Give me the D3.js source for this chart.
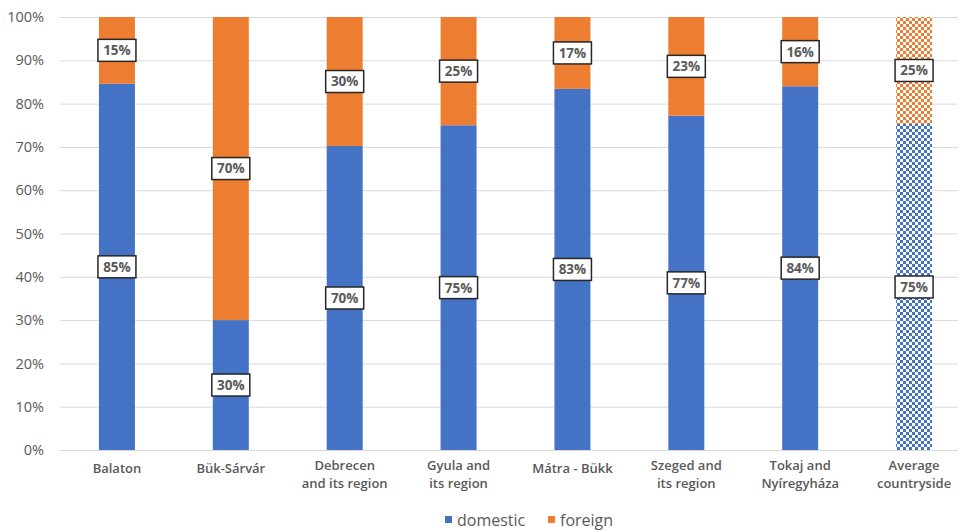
<!DOCTYPE html>
<html>
<head>
  <meta charset="utf-8">
  <script src="https://d3js.org/d3.v7.min.js"></script>
  <style>
    body { margin: 0; padding: 0; background: #fff; }
    text { font-family: "Open Sans", "DejaVu Sans", sans-serif; fill: #595959; }
  </style>
</head>
<body>
  <script>
    // values (percent of guests)
    var categories = ["Balaton", "Bük-Sárvár", "Debrecen\nand its region", "Gyula and\nits region",
      "Mátra - Bükk", "Szeged and\nits region", "Tokaj and\nNyíregyháza", "Average\ncountryside"];
    var domestic = [84.6, 30, 70.2, 75, 83.4, 77.2, 84, 75.3];
    var foreign = [15.4, 70, 29.8, 25, 16.6, 22.8, 16, 24.7];
    var seriesNames = ["domestic", "foreign"];
    var yTicks = [0, 10, 20, 30, 40, 50, 60, 70, 80, 90, 100];
    var colors = ["#4472C4", "#ED7D31"];

    var width = 960, height = 531;
    var margin = { top: 17, left: 60, bottom: 81 };

    var svg = d3.select("body").append("svg")
      .attr("width", width)
      .attr("height", height);

    // checker patterns for the average bar
    var defs = svg.append("defs");
    colors.forEach(function (c, i) {
      var p = defs.append("pattern")
        .attr("id", "checker" + i)
        .attr("patternUnits", "userSpaceOnUse")
        .attr("width", 6).attr("height", 6);
      p.append("rect").attr("width", 6).attr("height", 6).attr("fill", "#fff");
      p.append("rect").attr("width", 3).attr("height", 3).attr("fill", c);
      p.append("rect").attr("x", 3).attr("y", 3).attr("width", 3).attr("height", 3).attr("fill", c);
    });

    var x = d3.scaleBand()
      .domain(categories)
      .range([margin.left, 971])
      .paddingInner(0.684)
      .paddingOuter(0.342);

    var y = d3.scaleLinear()
      .domain([0, 100])
      .range([height - margin.bottom, margin.top]);

    // gridlines
    svg.append("g")
      .selectAll("line")
      .data(yTicks)
      .enter().append("line")
      .attr("x1", margin.left)
      .attr("x2", 958)
      .attr("y1", function (d) { return y(d) + 0.5; })
      .attr("y2", function (d) { return y(d) + 0.5; })
      .attr("stroke", "#d9d9d9")
      .attr("stroke-width", 1);

    // y axis labels
    var yAxis = d3.axisLeft(y)
      .tickValues(yTicks)
      .tickSize(0)
      .tickPadding(16)
      .tickFormat(function (d) { return d + "%"; });

    var ya = svg.append("g")
      .attr("transform", "translate(" + margin.left + ",0)")
      .call(yAxis);
    ya.select(".domain").remove();
    ya.selectAll("text")
      .attr("font-size", 14.5)
      .attr("fill", "#595959")
      .style("font-family", "\"Open Sans\", sans-serif");

    // stacked data
    var rows = categories.map(function (c, i) {
      return { cat: c, domestic: domestic[i], foreign: foreign[i], avg: i === categories.length - 1 };
    });
    var stack = d3.stack().keys(seriesNames)(rows);

    var layers = svg.selectAll(".layer")
      .data(stack)
      .enter().append("g")
      .attr("class", "layer");

    layers.selectAll("rect")
      .data(function (s, si) { return s.map(function (d) { return { d: d, si: si }; }); })
      .enter().append("rect")
      .attr("x", function (o) { return x(o.d.data.cat); })
      .attr("width", x.bandwidth())
      .attr("y", function (o) { return y(o.d[1]); })
      .attr("height", function (o) { return y(o.d[0]) - y(o.d[1]); })
      .attr("fill", function (o) {
        return o.d.data.avg ? "url(#checker" + o.si + ")" : colors[o.si];
      });

    // data labels
    var labels = svg.append("g");
    stack.forEach(function (s) {
      s.forEach(function (d) {
        var cx = x(d.data.cat) + x.bandwidth() / 2;
        var cy = y((d[0] + d[1]) / 2);
        var g = labels.append("g").attr("transform", "translate(" + cx + "," + cy + ")");
        g.append("rect")
          .attr("x", -19).attr("y", -11)
          .attr("width", 38).attr("height", 22)
          .attr("fill", "#fff")
          .attr("stroke", "#262626")
          .attr("stroke-width", 1.5);
        g.append("text")
          .attr("text-anchor", "middle")
          .attr("dy", "0.36em")
          .attr("font-size", 13.5)
          .attr("font-weight", "bold")
          .attr("fill", "#404040")
          .text(Math.round(d[1] - d[0]) + "%");
      });
    });

    // category labels
    var xl = svg.append("g");
    categories.forEach(function (c) {
      var lines = c.split("\n");
      var t = xl.append("text")
        .attr("x", x(c) + x.bandwidth() / 2)
        .attr("y", lines.length > 1 ? 470 : 473)
        .attr("text-anchor", "middle")
        .attr("font-size", 13)
        .attr("font-weight", 600)
        .attr("fill", "#757575");
      lines.forEach(function (l, i) {
        t.append("tspan")
          .attr("x", x(c) + x.bandwidth() / 2)
          .attr("dy", i === 0 ? 0 : 18)
          .text(l);
      });
    });

    // legend
    var legend = svg.append("g").attr("transform", "translate(445,520)");
    var lx = [0, 103];
    seriesNames.forEach(function (n, i) {
      var g = legend.append("g").attr("transform", "translate(" + lx[i] + ",0)");
      g.append("rect").attr("x", 0).attr("y", -4).attr("width", 7).attr("height", 7).attr("fill", colors[i]);
      g.append("text").attr("x", 12).attr("y", 0).attr("dy", "0.35em")
        .attr("font-size", 16).attr("fill", "#595959").text(n);
    });
  </script>
</body>
</html>
